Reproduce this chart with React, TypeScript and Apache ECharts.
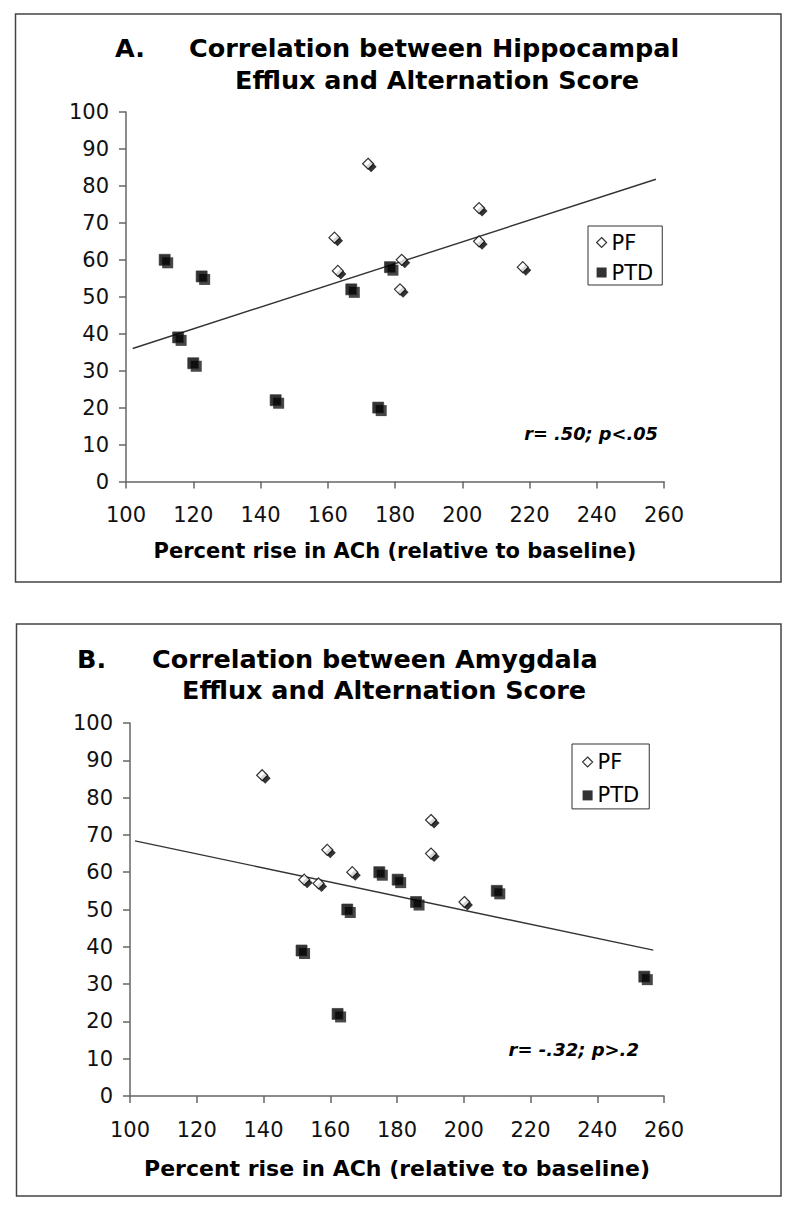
import React, { useEffect, useRef } from "react";
import * as echarts from "echarts";

// Chart A: Hippocampal efflux vs alternation score
const hipPF: number[][] = [
  [172, 86], [162, 66], [163, 57], [182, 60], [181.5, 52], [205, 74], [205, 65], [218, 58],
];
const hipPTD: number[][] = [
  [111.5, 60], [122.5, 55.5], [115.5, 39], [120, 32], [144.5, 22], [175, 20], [167, 52], [178.5, 58],
];
const hipTrend: number[][] = [[102, 36], [257.6, 81.8]];

// Chart B: Amygdala efflux vs alternation score
const amyPF: number[][] = [
  [139.6, 86], [152.2, 58], [156.5, 57], [159.1, 66], [166.6, 60], [190.2, 74], [190.2, 65], [200.2, 52],
];
const amyPTD: number[][] = [
  [174.7, 60], [180.2, 58], [185.7, 52], [165.1, 50], [151.4, 39], [162.2, 22], [209.9, 55], [254.1, 32],
];
const amyTrend: number[][] = [[101.5, 68.4], [256.8, 39.1]];

const legendNames = ["PF", "PTD"];
const xAxisTitle = "Percent rise in ACh (relative to baseline)";
const titleA = ["A.", "Correlation between Hippocampal", "Efflux and Alternation Score"];
const titleB = ["B.", "Correlation between Amygdala", "Efflux and Alternation Score"];
const statA = "r= .50; p<.05";
const statB = "r= -.32; p>.2";

const FONT = '"DejaVu Sans", Verdana, sans-serif';

function makeX(gridIndex: number, nameSize: number, nameGap: number) {
  return {
    type: "value",
    gridIndex,
    min: 100,
    max: 260,
    interval: 20,
    name: xAxisTitle,
    nameLocation: "middle",
    nameGap,
    nameTextStyle: { fontFamily: FONT, fontWeight: "bold", fontSize: nameSize, color: "#000", lineHeight: nameSize },
    axisLine: { show: true, onZero: false, lineStyle: { color: "#666", width: 1.5 } },
    axisTick: { show: true, length: 7, lineStyle: { color: "#666", width: 1.5 } },
    axisLabel: { fontFamily: FONT, fontSize: 21, color: "#111", margin: 23, lineHeight: 21 },
    splitLine: { show: false },
  };
}

function makeY(gridIndex: number) {
  return {
    type: "value",
    gridIndex,
    min: 0,
    max: 100,
    interval: 10,
    axisLine: { show: true, onZero: false, lineStyle: { color: "#666", width: 1.5 } },
    axisTick: { show: true, length: 7, lineStyle: { color: "#666", width: 1.5 } },
    axisLabel: { fontFamily: FONT, fontSize: 21, color: "#111", margin: 17 },
    splitLine: { show: false },
  };
}

function makeSeries(idx: number, pf: number[][], ptd: number[][], trend: number[][]) {
  return [
    {
      name: "trend" + idx,
      type: "line",
      xAxisIndex: idx,
      yAxisIndex: idx,
      data: trend,
      showSymbol: false,
      symbol: "none",
      lineStyle: { color: "#333", width: 1.4 },
      z: 1,
      silent: true,
    },
    {
      name: "PF shadow " + idx,
      type: "scatter",
      xAxisIndex: idx,
      yAxisIndex: idx,
      data: pf,
      symbol: "diamond",
      symbolSize: 11,
      symbolOffset: [3, 3],
      itemStyle: { color: "#000" },
      z: 2,
      silent: true,
    },
    {
      name: "PTD shadow " + idx,
      type: "scatter",
      xAxisIndex: idx,
      yAxisIndex: idx,
      data: ptd,
      symbol: "rect",
      symbolSize: 11,
      symbolOffset: [3, 3],
      itemStyle: { color: "#1a1a1a" },
      z: 2,
      silent: true,
    },
    {
      name: "PF",
      type: "scatter",
      xAxisIndex: idx,
      yAxisIndex: idx,
      data: pf,
      symbol: "diamond",
      symbolSize: 11,
      itemStyle: { color: "#fff", borderColor: "#000", borderWidth: 1.2 },
      z: 3,
      silent: true,
    },
    {
      name: "PTD",
      type: "scatter",
      xAxisIndex: idx,
      yAxisIndex: idx,
      data: ptd,
      symbol: "rect",
      symbolSize: 11,
      itemStyle: { color: "#000", borderColor: "#333", borderWidth: 0.8 },
      z: 3,
      silent: true,
    },
  ];
}

function makeLegend(left: number, top: number, padding: number[], itemGap: number) {
  return {
    data: [
      { name: legendNames[0], icon: "diamond", itemStyle: { color: "#fff", borderColor: "#000", borderWidth: 1.2 } },
      { name: legendNames[1], icon: "rect", itemStyle: { color: "#000", borderWidth: 0 } },
    ],
    orient: "vertical",
    left,
    top,
    padding,
    itemGap,
    itemWidth: 10,
    itemHeight: 10,
    borderColor: "#333",
    borderWidth: 1,
    backgroundColor: "#fff",
    selectedMode: false,
    textStyle: { fontFamily: FONT, fontSize: 21, color: "#000", lineHeight: 21 },
  };
}

function txt(text: string, x: number, y: number, size: number, align = "left", style = "normal") {
  return {
    type: "text",
    x,
    y,
    silent: true,
    style: {
      text,
      fontFamily: FONT,
      fontWeight: "bold",
      fontStyle: style,
      fontSize: size,
      fill: "#000",
      align,
      verticalAlign: "middle",
    },
  };
}

export default function App() {
  const ref = useRef<HTMLDivElement | null>(null);

  useEffect(() => {
    if (!ref.current) return;
    const chart = echarts.init(ref.current, null, { renderer: "svg" });
    const option: any = {
      animation: false,
      backgroundColor: "#fff",
      grid: [
        { left: 126, right: 136, top: 112, bottom: 1211 - 481.5, containLabel: false },
        { left: 130, right: 136, top: 723, bottom: 1211 - 1096, containLabel: false },
      ],
      xAxis: [makeX(0, 21, 59), makeX(1, 22, 61)],
      yAxis: [makeY(0), makeY(1)],
      legend: [
        makeLegend(588, 226, [6, 9, 2, 8], 9),
        makeLegend(572, 744, [7.5, 10, 3, 10], 12.4),
      ],
      series: [
        ...makeSeries(0, hipPF, hipPTD, hipTrend),
        ...makeSeries(1, amyPF, amyPTD, amyTrend),
      ],
      graphic: [
        {
          type: "rect",
          silent: true,
          z: -10,
          shape: { x: 15.5, y: 14, width: 765.5, height: 568 },
          style: { fill: "none", stroke: "#444", lineWidth: 1.5 },
        },
        {
          type: "rect",
          silent: true,
          z: -10,
          shape: { x: 16.5, y: 624, width: 764.5, height: 572 },
          style: { fill: "none", stroke: "#444", lineWidth: 1.5 },
        },
        txt(titleA[0], 115, 48, 25.5),
        txt(titleA[1], 189, 48, 25.5),
        txt(titleA[2], 235, 80, 25.5),
        txt(titleB[0], 77, 659, 25.5),
        txt(titleB[1], 152, 659, 25.5),
        txt(titleB[2], 182, 690, 25.5),
        txt(statA, 658, 433, 17.8, "right", "italic"),
        txt(statB, 639, 1049, 18, "right", "italic"),
      ],
    };
    chart.setOption(option);
    return () => chart.dispose();
  }, []);

  return (
    <div
      ref={ref}
      style={{ position: "absolute", left: 0, top: 0, width: 800, height: 1211, background: "#fff" }}
    />
  );
}
